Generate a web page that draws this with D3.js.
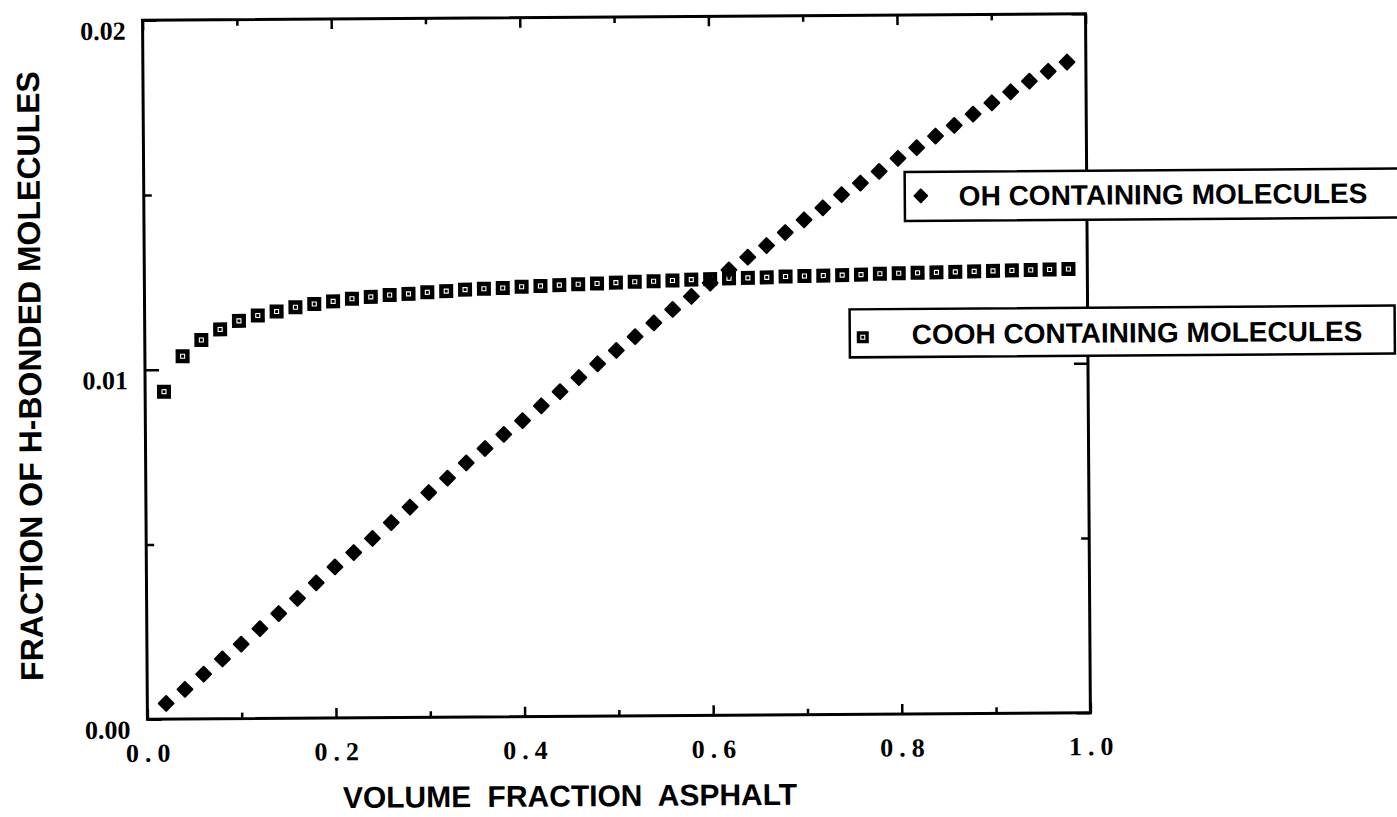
<!DOCTYPE html>
<html>
<head>
<meta charset="utf-8">
<script src="https://cdn.jsdelivr.net/npm/d3@7"></script>
<style>
	html, body { margin: 0; padding: 0; background: #fff; }
	svg { display: block; }
	.frame { fill: none; stroke: #000; stroke-width: 3; }
	.axis path { display: none; }
	.axis line { stroke: #000; stroke-width: 2.5; }
	.axis text { font-family: "Liberation Serif", "Times New Roman", serif; font-weight: bold; fill: #000; }
	.title { font-family: "Liberation Sans", Arial, sans-serif; font-weight: bold; fill: #000; }
	.legend rect.box { fill: #fff; stroke: #000; stroke-width: 2.5; }
</style>
</head>
<body>
<script>
const volumeFraction = [0.02, 0.04, 0.06, 0.08, 0.10, 0.12, 0.14, 0.16, 0.18, 0.20,
	0.22, 0.24, 0.26, 0.28, 0.30, 0.32, 0.34, 0.36, 0.38, 0.40,
	0.42, 0.44, 0.46, 0.48, 0.50, 0.52, 0.54, 0.56, 0.58, 0.60,
	0.62, 0.64, 0.66, 0.68, 0.70, 0.72, 0.74, 0.76, 0.78, 0.80,
	0.82, 0.84, 0.86, 0.88, 0.90, 0.92, 0.94, 0.96, 0.98];

const ohFraction = [0.00045, 0.00085, 0.00128, 0.00171, 0.00213, 0.00257, 0.00300, 0.00343, 0.00387, 0.00432,
	0.00473, 0.00513, 0.00558, 0.00602, 0.00643, 0.00684, 0.00727, 0.00768, 0.00808, 0.00847,
	0.00889, 0.00929, 0.00969, 0.01008, 0.01046, 0.01085, 0.01124, 0.01162, 0.01199, 0.01237,
	0.01274, 0.01310, 0.01343, 0.01380, 0.01416, 0.01450, 0.01487, 0.01520, 0.01553, 0.01590,
	0.01620, 0.01653, 0.01683, 0.01715, 0.01747, 0.01778, 0.01808, 0.01836, 0.01862];

const coohFraction = [0.00937, 0.01038, 0.01084, 0.01114, 0.01138, 0.01153, 0.01164, 0.01176, 0.01185, 0.01192,
	0.01199, 0.01204, 0.01209, 0.01212, 0.01216, 0.01219, 0.01223, 0.01225, 0.01227, 0.01230,
	0.01232, 0.01234, 0.01236, 0.01238, 0.01240, 0.01242, 0.01243, 0.01245, 0.01247, 0.01248,
	0.01250, 0.01251, 0.01252, 0.01254, 0.01255, 0.01256, 0.01257, 0.01258, 0.01260, 0.01261,
	0.01262, 0.01263, 0.01264, 0.01265, 0.01266, 0.01267, 0.01268, 0.01269, 0.01270];

const xTicks = [0, 0.1, 0.2, 0.3, 0.4, 0.5, 0.6, 0.7, 0.8, 0.9, 1.0];
const xTickLabels = ["0.0", "0.2", "0.4", "0.6", "0.8", "1.0"];
const yTicks = [0, 0.005, 0.01, 0.015, 0.02];
const yTickLabels = ["0.00", "0.01", "0.02"];

const seriesNames = ["OH CONTAINING MOLECULES", "COOH CONTAINING MOLECULES"];
const xTitle = "VOLUME FRACTION ASPHALT";
const yTitle = "FRACTION OF H-BONDED MOLECULES";

const width = 1397, height = 817;
const margin = {left: 145, right: 309, top: 17, bottom: 101};

let scale = {
	x: d3.scaleLinear().domain([0, 1]).range([margin.left, width - margin.right]),
	y: d3.scaleLinear().domain([0, 0.02]).range([height - margin.bottom, margin.top])
};

let svg = d3.select("body").append("svg")
	.attr("width", width)
	.attr("height", height)
	.attr("viewBox", `0 0 ${width} ${height}`);

// the scanned figure sits a little tilted
let chart = svg.append("g")
	.attr("transform", "rotate(-0.4, 616, 370)");

let x0 = scale.x.range()[0], x1 = scale.x.range()[1];
let y0 = scale.y.range()[0], y1 = scale.y.range()[1];

let isMajorX = d => Math.round(d * 10) % 2 === 0;
let isMajorY = d => Math.round(d * 1000) % 10 === 0;

// bottom axis with labels
chart.append("g")
	.attr("class", "axis x")
	.attr("transform", `translate(0, ${y0})`)
	.call(d3.axisBottom(scale.x).tickValues(xTicks).tickSize(-10).tickPadding(24)
		.tickFormat(d => isMajorX(d) ? xTickLabels[Math.round(d * 5)] : ""))
	.call(g => g.selectAll(".tick line").attr("y2", d => isMajorX(d) ? -10 : -6))
	.call(g => g.selectAll("text").attr("font-size", 26).attr("letter-spacing", 6).attr("dx", 3));

// top axis
chart.append("g")
	.attr("class", "axis x top")
	.attr("transform", `translate(0, ${y1})`)
	.call(d3.axisTop(scale.x).tickValues(xTicks).tickSize(-10).tickFormat(""))
	.call(g => g.selectAll(".tick line").attr("y2", d => isMajorX(d) ? 10 : 6));

// left axis with labels
chart.append("g")
	.attr("class", "axis y")
	.attr("transform", `translate(${x0}, 0)`)
	.call(d3.axisLeft(scale.y).tickValues(yTicks).tickSize(-14).tickPadding(17)
		.tickFormat(d => isMajorY(d) ? yTickLabels[Math.round(d * 100)] : ""))
	.call(g => g.selectAll(".tick line").attr("x2", d => isMajorY(d) ? 14 : 8))
	.call(g => g.selectAll("text").attr("font-size", 26).attr("dy", "0.72em"));

// right axis
chart.append("g")
	.attr("class", "axis y right")
	.attr("transform", `translate(${x1}, 0)`)
	.call(d3.axisRight(scale.y).tickValues(yTicks).tickSize(-14).tickFormat(""))
	.call(g => g.selectAll(".tick line").attr("x2", d => isMajorY(d) ? -14 : -8));

chart.append("rect")
	.attr("class", "frame")
	.attr("x", x0)
	.attr("y", y1)
	.attr("width", x1 - x0)
	.attr("height", y0 - y1);

let diamond = d3.symbol().type(d3.symbolSquare).size(110);

let drawSquare = (g, size) => {
	g.append("rect")
		.attr("x", -size / 2).attr("y", -size / 2)
		.attr("width", size).attr("height", size)
		.attr("fill", "#000");
	g.append("rect")
		.attr("x", -2).attr("y", -2)
		.attr("width", 4).attr("height", 4)
		.attr("fill", "#000")
		.attr("stroke", "#fff")
		.attr("stroke-width", 1.1);
};

// COOH series
chart.append("g")
	.attr("class", "series cooh")
	.selectAll("g")
	.data(volumeFraction.map((v, i) => ({x: v, y: coohFraction[i]})))
	.enter()
	.append("g")
		.attr("transform", d => `translate(${scale.x(d.x)}, ${scale.y(d.y)})`)
		.each(function() { drawSquare(d3.select(this), 14); });

// OH series
chart.append("g")
	.attr("class", "series oh")
	.selectAll("path")
	.data(volumeFraction.map((v, i) => ({x: v, y: ohFraction[i]})))
	.enter()
	.append("path")
		.attr("d", diamond)
		.attr("transform", d => `translate(${scale.x(d.x)}, ${scale.y(d.y)}) rotate(45)`)
		.attr("fill", "#000")
		.attr("stroke", "#000")
		.attr("stroke-width", 2)
		.attr("stroke-linejoin", "round");

// legend boxes
let legend = chart.append("g").attr("class", "legend");

let ohItem = legend.append("g");
ohItem.append("rect").attr("class", "box")
	.attr("x", 906).attr("y", 174).attr("width", 520).attr("height", 49);
ohItem.append("path")
	.attr("d", d3.symbol().type(d3.symbolSquare).size(80))
	.attr("transform", "translate(922, 198) rotate(45)")
	.attr("fill", "#000").attr("stroke", "#000").attr("stroke-width", 2).attr("stroke-linejoin", "round");
ohItem.append("text").attr("class", "title")
	.attr("x", 960).attr("y", 208)
	.attr("font-size", 28)
	.text(seriesNames[0]);

let coohItem = legend.append("g");
coohItem.append("rect").attr("class", "box")
	.attr("x", 850).attr("y", 311).attr("width", 545).attr("height", 48);
coohItem.append("g")
	.attr("transform", "translate(863, 339)")
	.call(g => drawSquare(g, 12));
coohItem.append("text").attr("class", "title")
	.attr("x", 912).attr("y", 346)
	.attr("font-size", 28)
	.text(seriesNames[1]);

// axis titles
chart.append("text").attr("class", "title")
	.attr("transform", `translate(30, 372) rotate(-90)`)
	.attr("text-anchor", "middle")
	.attr("dominant-baseline", "central")
	.attr("font-size", 32)
	.text(yTitle);

chart.append("text").attr("class", "title")
	.attr("x", 567)
	.attr("y", 806)
	.attr("text-anchor", "middle")
	.attr("font-size", 30)
	.attr("word-spacing", 8)
	.text(xTitle);
</script>
</body>
</html>
